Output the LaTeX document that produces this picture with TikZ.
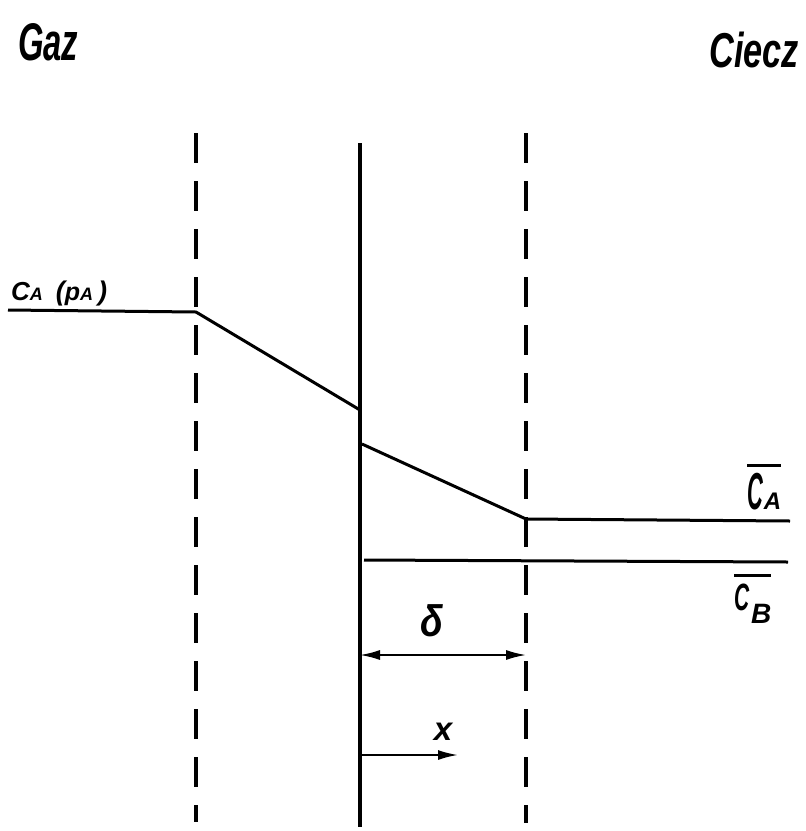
\documentclass[tikz,border=0pt]{standalone}
\usepackage{fontspec}
\usepackage{graphicx}
\setmainfont{Liberation Sans}
\usetikzlibrary{arrows.meta}
\newcommand\myfs[1]{\fontsize{#1}{#1}\selectfont}
\begin{document}
\begin{tikzpicture}[x=1pt,y=-1pt,
  dashln/.style={line width=3.2pt, dash pattern=on 30pt off 18pt},
  solidln/.style={line width=3.4pt},
  curveln/.style={line width=3pt, line join=round},
  dimarrow/.style={line width=1.8pt, {Latex[length=20pt,width=10pt]}-{Latex[length=20pt,width=10pt]}},
  xarrow/.style={line width=2pt, -{Latex[length=20pt,width=10pt]}},
  hand/.style={font=\bfseries\itshape, inner sep=0pt, outer sep=0pt}]
\useasboundingbox (0,0) rectangle (806,831);
% coordinates
\coordinate (L1t) at (196,133); \coordinate (L1b) at (196,822);
\coordinate (Mt) at (360,143);  \coordinate (Mb) at (360,827);
\coordinate (R1t) at (526,133); \coordinate (R1b) at (526,823);
\coordinate (a0) at (8,310);   \coordinate (a1) at (196,312);
\coordinate (a2) at (360,410); \coordinate (a3) at (362,444);
\coordinate (a4) at (526,519); \coordinate (a5) at (790,521);
\coordinate (b0) at (364,560); \coordinate (b1) at (788,562);
\coordinate (d0) at (360,655); \coordinate (d1) at (526,655);
\coordinate (x0) at (360,755); \coordinate (x1) at (458,755);
% vertical lines
\draw[dashln] (L1t) -- (L1b);
\draw[solidln] (Mt) -- (Mb);
\draw[dashln] (R1t) -- (R1b);
% concentration profile
\draw[curveln] (a0) -- (a1) -- (a2);
\draw[curveln] (a3) -- (a4) -- (a5);
\draw[curveln] (b0) -- (b1);
% dimension and x arrows
\draw[dimarrow] (d0) -- (d1);
\draw[xarrow] (x0) -- (x1);
% labels
\node[hand, anchor=base west] (gaz) at (18,60) {\myfs{53}\scalebox{0.62}[1]{Gaz}};
\node[hand, anchor=base east] (ciecz) at (799,67) {\myfs{49}\scalebox{0.7}[1]{Ciecz}};
\node[hand, anchor=base west] (cap) at (11,300)
  {\myfs{26}C\myfs{18}A\hspace{13pt}\myfs{27}(\myfs{25}p\myfs{18}A\hspace{5pt}\myfs{27})};
\node[hand, anchor=south west] (cabar) at (747,510)
  {\vbox{\hrule height 2.8pt\kern 6pt\hbox{\myfs{52}\scalebox{0.42}[1]{C}\hspace{1pt}\myfs{24}A}}};
\node[hand, anchor=north west] (cbbar) at (734,574)
  {\vbox{\hrule height 2.8pt\kern 7pt\hbox{\myfs{38}\scalebox{0.55}[1]{C}\hspace{2pt}\raisebox{-13pt}{\myfs{28}B}}}};
\node[hand] (delta) at (432,621) {\myfs{44}\scalebox{0.85}[1]{δ}};
\node[hand] (xl) at (443,732) {\myfs{33}x};
\end{tikzpicture}
\end{document}
